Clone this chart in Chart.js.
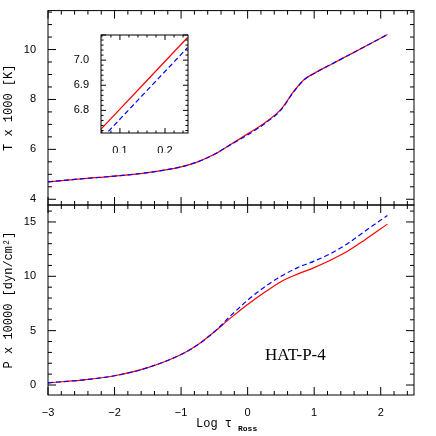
<!DOCTYPE html><html><head><script src="https://cdn.jsdelivr.net/npm/chart.js"></script>
<style>body{margin:0;background:#fff}canvas{position:absolute;left:0;top:0}</style></head><body>
<canvas id="c1" width="436" height="436"></canvas><canvas id="c2" width="436" height="436"></canvas><canvas id="c3" width="436" height="436"></canvas>
<script>
const tauT=[-3,-2.5,-2,-1.5,-1,-0.75,-0.5,-0.25,0,0.25,0.5,0.7,0.85,1.0,1.25,1.5,1.75,2.1];
const tempRed=[4.7,4.82,4.93,5.07,5.3,5.5,5.8,6.2,6.62,7.05,7.6,8.35,8.8,9.05,9.4,9.75,10.1,10.6];
const tempBlue=[4.7,4.82,4.93,5.07,5.3,5.5,5.8,6.2,6.58,7.02,7.58,8.33,8.79,9.04,9.4,9.75,10.1,10.6];
const tauP=[-3,-2.5,-2,-1.5,-1,-0.75,-0.5,-0.25,0,0.25,0.5,0.75,1,1.25,1.5,1.75,2.1];
const presRed=[0.2,0.45,0.85,1.6,2.8,3.7,4.9,6.2,7.4,8.5,9.5,10.2,10.8,11.5,12.3,13.3,14.8];
const presBlue=[0.2,0.45,0.85,1.6,2.8,3.7,4.9,6.4,7.8,9.0,10.0,10.8,11.4,12.1,13.0,14.1,15.6];
const insetTau=[0.05,0.15,0.25];
const insetRed=[6.71,6.90,7.09];
const insetBlue=[6.67,6.86,7.05];
const mainXTicks=[-3,-2,-1,0,1,2];
const tTicks=[4,6,8,10];
const pTicks=[0,5,10,15];
const insetXTicks=[0.1,0.2];
const insetYTicks=[6.8,6.9,7.0];

const mono='Liberation Mono';
function pts(x,y){return x.map((v,i)=>({x:v,y:y[i]}));}
function ds(x,y,c,dash){return {data:pts(x,y),borderColor:c,borderWidth:1.2,borderDash:dash,pointRadius:0,cubicInterpolationMode:'monotone'};}
const inward={id:'inward',afterDraw(ch,a,o){const c=ch.ctx,A=ch.chartArea;c.save();c.strokeStyle='#000';c.lineWidth=1;
 const tk=(sc,step,minor,L)=>{for(let v=Math.ceil(sc.min/minor-1e-6)*minor;v<=sc.max+1e-9;v+=minor){const maj=Math.abs(v/step-Math.round(v/step))<1e-6;const l=maj?L:L/2;const p=sc.getPixelForValue(v);c.beginPath();
  if(sc.axis==='x'){c.moveTo(p,A.bottom);c.lineTo(p,A.bottom-l);c.moveTo(p,A.top);c.lineTo(p,A.top+l);}else{c.moveTo(A.left,p);c.lineTo(A.left+l,p);c.moveTo(A.right,p);c.lineTo(A.right-l,p);}c.stroke();}};
 tk(ch.scales.x,o.xs,o.xm,o.L);tk(ch.scales.y,o.ys,o.ym,o.L);
 c.strokeRect(A.left,A.top,A.right-A.left,A.bottom-A.top);
 if(o.sub){c.fillStyle='#000';c.font='12px '+mono;c.textAlign='left';c.fillText('Log τ',196,427);c.font='bold 8px '+mono;c.fillText('Ross',238,431);}
 if(o.label){c.font='17px Liberation Serif';c.fillStyle='#000';c.fillText('HAT-P-4',265,360);}
 c.restore();}};
function mk(id,dsets,xr,yr,pad,yw,xh,opt,xshow,yt,fs,xt,yticks,dec){
 return new Chart(document.getElementById(id),{type:'line',data:{datasets:dsets},plugins:[inward],options:{responsive:false,animation:false,layout:{padding:pad},
 plugins:{legend:{display:false},tooltip:{enabled:false},inward:opt},
 scales:{x:{type:'linear',min:xr[0],max:xr[1],grid:{display:false},border:{display:false},display:xshow,afterFit:s=>{s.height=xh},
   afterBuildTicks:s=>{s.ticks=xt.map(v=>({value:v}))},
   ticks:{color:'#000',font:{size:fs},padding:3,callback:v=>(+(+v).toFixed(2)).toString().replace('-','−')}},
  y:{type:'linear',min:yr[0],max:yr[1],grid:{display:false},border:{display:false},afterFit:s=>{s.width=yw},
   afterBuildTicks:s=>{s.ticks=yticks.map(v=>({value:v}))},
   title:{display:!!yt,text:yt,font:{family:mono,size:12},color:'#000',padding:2},
   ticks:{color:'#000',font:{size:fs},padding:4,callback:v=>(+v).toFixed(dec)}}}}});}
mk('c1',[ds(tauT,tempBlue,'#0000ff',[5,3]),ds(tauT,tempRed,'#ff0000',[])],[-3,2.5],[3.77,11.56],{left:0,top:5,right:22,bottom:231},48,0,{xs:1,xm:0.2,ys:2,ym:0.5,L:8},false,'T x 1000 [K]',11,mainXTicks,tTicks,0);
mk('c2',[ds(tauP,presBlue,'#0000ff',[5,3]),ds(tauP,presRed,'#ff0000',[])],[-3,2.5],[-0.92,16.56],{left:0,top:205,right:22,bottom:0},48,41,{xs:1,xm:0.2,ys:5,ym:1,L:8,sub:true,label:true},true,'P x 10000 [dyn/cm²]',11,mainXTicks,pTicks,0);
mk('c3',[ds(insetTau,insetBlue,'#0000ff',[5,3]),ds(insetTau,insetRed,'#ff0000',[])],[0.058,0.251],[6.71,7.10],{left:71,top:35,right:248,bottom:283},30,20,{xs:0.1,xm:0.02,ys:0.1,ym:0.02,L:5},true,'',11,insetXTicks,insetYTicks,1);
</script></body></html>
